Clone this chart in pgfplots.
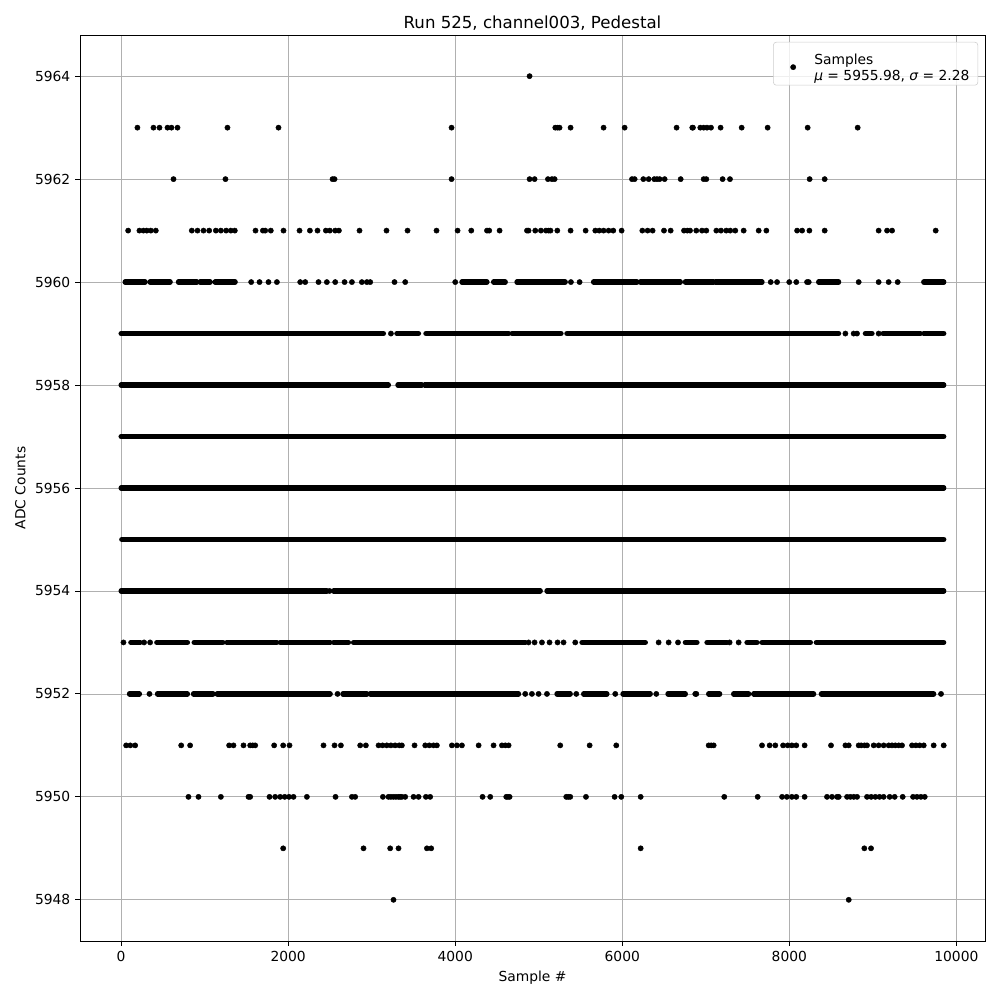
\documentclass[border=0pt]{standalone}
\usepackage{fontspec}
\setmainfont{DejaVu Sans}
\usepackage{pgfplots}
\pgfplotsset{compat=1.18}
\definecolor{gridgray}{HTML}{B0B0B0}
\definecolor{legframe}{HTML}{CCCCCC}
\begin{document}
\begin{tikzpicture}
\useasboundingbox (-57.6bp,-42.48bp) rectangle (662.4bp,677.52bp);
\begin{axis}[
  scale only axis,
  width=651.6bp, height=652.32bp,
  xmin=-492.5, xmax=10342.5,
  ymin=5947.2, ymax=5964.8,
  xtick={0,2000,4000,6000,8000,10000},
  ytick={5948,5950,5952,5954,5956,5958,5960,5962,5964},
  scaled x ticks=false, scaled y ticks=false,
  /pgf/number format/assume math mode=true,
  /pgf/number format/set thousands separator={},
  xticklabel style={/pgf/number format/fixed},
  yticklabel style={/pgf/number format/fixed},
  tick label style={font=\fontsize{10}{12}\selectfont},
  tick align=outside,
  xtick pos=left, ytick pos=left,
  major tick length=3.5bp,
  tick style={black, line width=0.6bp},
  axis line style={black, line width=0.6bp},
  grid=major,
  major grid style={gridgray, line width=0.58bp},
  title={Run 525, channel003, Pedestal},
  title style={font=\fontsize{12}{14}\selectfont, yshift=-6bp},
  xlabel={Sample \#},
  ylabel={ADC Counts},
  label style={font=\fontsize{10}{12}\selectfont},
  legend style={at={(1,1)}, anchor=north east, xshift=-5bp, yshift=-5bp,
    draw=legframe, rounded corners=2bp, fill=white, fill opacity=0.8, text opacity=1,
    font=\fontsize{10}{12}\selectfont, inner xsep=4bp, inner ysep=5.5bp},
  legend cell align=left,
  legend image code/.code={\path (-10bp,0bp) (13bp,0bp); \draw[#1, fill opacity=1, draw opacity=1] plot coordinates {(0bp,-2.5bp)};},
]
% dense runs of samples (contiguous groups of dots) drawn as joined dots
\addplot[black, line width=3.8bp, line cap=round, no markers, unbounded coords=jump, forget plot] table {
x y
0 5959
3140 5959
nan nan
3301 5959
3560 5959
nan nan
3649 5959
4440 5959
nan nan
4459 5959
4639 5959
nan nan
4679 5959
5266 5959
nan nan
5337 5959
8590 5959
nan nan
8910 5959
8990 5959
nan nan
9122 5959
9569 5959
nan nan
9609 5959
9849 5959
nan nan
0 5958
3200 5958
nan nan
3314 5958
3601 5958
nan nan
3633 5958
9849 5958
nan nan
0 5957
9849 5957
nan nan
0 5956
9849 5956
nan nan
8 5955
9849 5955
nan nan
0 5954
2463 5954
nan nan
2543 5954
5018 5954
nan nan
5098 5954
9849 5954
nan nan
116 5953
228 5953
nan nan
427 5953
794 5953
nan nan
874 5953
1218 5953
nan nan
1265 5953
1864 5953
nan nan
1904 5953
2503 5953
nan nan
2543 5953
2722 5953
nan nan
2782 5953
4838 5953
nan nan
5517 5953
6276 5953
nan nan
6755 5953
6894 5953
nan nan
7014 5953
7253 5953
nan nan
7493 5953
7613 5953
nan nan
7673 5953
8252 5953
nan nan
8323 5953
9848 5953
nan nan
100 5952
219 5952
nan nan
435 5952
794 5952
nan nan
866 5952
1100 5952
nan nan
1150 5952
2503 5952
nan nan
2655 5952
2942 5952
nan nan
2982 5952
4758 5952
nan nan
5218 5952
5377 5952
nan nan
5537 5952
5816 5952
nan nan
6008 5952
6335 5952
nan nan
6547 5952
6755 5952
nan nan
7034 5952
7166 5952
nan nan
7333 5952
7513 5952
nan nan
7573 5952
8291 5952
nan nan
8383 5952
9728 5952
nan nan
48 5960
287 5960
nan nan
347 5960
587 5960
nan nan
686 5960
906 5960
nan nan
946 5960
1066 5960
nan nan
1126 5960
1365 5960
nan nan
4080 5960
4380 5960
nan nan
4459 5960
4599 5960
nan nan
4739 5960
5317 5960
nan nan
5656 5960
6176 5960
nan nan
6216 5960
6695 5960
nan nan
6755 5960
7094 5960
nan nan
7114 5960
7673 5960
nan nan
8351 5960
8590 5960
nan nan
9609 5960
9849 5960
};
\addplot[only marks, mark=*, mark size=1.9bp, black, mark options={line width=0.3bp}] table {
x y
4890 5964
195 5963
387 5963
459 5963
555 5963
603 5963
675 5963
1273 5963
1884 5963
3956 5963
5198 5963
5225 5963
5249 5963
5381 5963
5776 5963
6028 5963
6650 5963
6838 5963
6846 5963
6934 5963
6974 5963
7014 5963
7062 5963
7177 5963
7429 5963
7740 5963
8219 5963
8818 5963
627 5962
1249 5962
2531 5962
2555 5962
3956 5962
4890 5962
4950 5962
5110 5962
5158 5962
5190 5962
6116 5962
6148 5962
6252 5962
6316 5962
6383 5962
6415 5962
6447 5962
6507 5962
6699 5962
6974 5962
7006 5962
7201 5962
7289 5962
8243 5962
8423 5962
84 5961
219 5961
267 5961
307 5961
355 5961
415 5961
846 5961
914 5961
986 5961
1054 5961
1134 5961
1194 5961
1257 5961
1313 5961
1361 5961
1609 5961
1697 5961
1725 5961
1792 5961
1944 5961
2136 5961
2260 5961
2351 5961
2451 5961
2499 5961
2563 5961
2607 5961
2854 5961
3177 5961
3429 5961
3776 5961
4028 5961
4192 5961
4380 5961
4407 5961
4531 5961
4859 5961
4878 5961
4958 5961
5026 5961
5086 5961
5118 5961
5141 5961
5222 5961
5381 5961
5561 5961
5677 5961
5725 5961
5776 5961
5836 5961
5892 5961
5992 5961
6240 5961
6303 5961
6363 5961
6499 5961
6579 5961
6739 5961
6779 5961
6811 5961
6886 5961
6954 5961
7006 5961
7126 5961
7182 5961
7245 5961
7293 5961
7353 5961
7453 5961
7633 5961
7725 5961
8093 5961
8153 5961
8240 5961
8423 5961
9069 5961
9170 5961
9230 5961
9752 5961
1557 5960
1657 5960
1764 5960
1865 5960
2144 5960
2204 5960
2363 5960
2463 5960
2563 5960
2675 5960
2763 5960
2882 5960
2942 5960
2982 5960
3273 5960
3401 5960
4000 5960
5385 5960
5489 5960
7777 5960
7853 5960
7999 5960
8083 5960
8212 5960
8232 5960
8830 5960
9069 5960
9189 5960
9297 5960
3230 5959
8671 5959
8770 5959
8810 5959
9069 5959
2495 5954
28 5953
275 5953
347 5953
4878 5953
4950 5953
5038 5953
5129 5953
5225 5953
5297 5953
5437 5953
6435 5953
6555 5953
6667 5953
7285 5953
7393 5953
339 5952
2591 5952
4838 5952
4918 5952
4998 5952
5098 5952
5449 5952
5916 5952
6407 5952
6874 5952
6886 5952
9816 5952
60 5951
110 5951
168 5951
719 5951
826 5951
1293 5951
1345 5951
1465 5951
1545 5951
1575 5951
1605 5951
1832 5951
1940 5951
2016 5951
2423 5951
2555 5951
2631 5951
2862 5951
2930 5951
3082 5951
3130 5951
3180 5951
3230 5951
3280 5951
3330 5951
3361 5951
3513 5951
3641 5951
3690 5951
3740 5951
3780 5951
3960 5951
4020 5951
4080 5951
4280 5951
4459 5951
4559 5951
4600 5951
4639 5951
5257 5951
5609 5951
5928 5951
7034 5951
7064 5951
7094 5951
7673 5951
7764 5951
7832 5951
7925 5951
7980 5951
8030 5951
8083 5951
8183 5951
8499 5951
8671 5951
8711 5951
8830 5951
8860 5951
8900 5951
8930 5951
9010 5951
9069 5951
9129 5951
9189 5951
9229 5951
9269 5951
9309 5951
9349 5951
9469 5951
9515 5951
9560 5951
9609 5951
9728 5951
9848 5951
806 5950
926 5950
1194 5950
1525 5950
1545 5950
1776 5950
1844 5950
1904 5950
1958 5950
2010 5950
2064 5950
2224 5950
2567 5950
2763 5950
2802 5950
3134 5950
3201 5950
3230 5950
3260 5950
3290 5950
3320 5950
3341 5950
3361 5950
3401 5950
3501 5950
3561 5950
3649 5950
3700 5950
4327 5950
4419 5950
4611 5950
4631 5950
4651 5950
5329 5950
5353 5950
5377 5950
5565 5950
5908 5950
5988 5950
6220 5950
7221 5950
7621 5950
7913 5950
7970 5950
8030 5950
8083 5950
8183 5950
8451 5950
8511 5950
8571 5950
8591 5950
8691 5950
8731 5950
8771 5950
8811 5950
8930 5950
8980 5950
9030 5950
9080 5950
9129 5950
9201 5950
9261 5950
9357 5950
9481 5950
9528 5950
9575 5950
9621 5950
1940 5949
2902 5949
3221 5949
3321 5949
3661 5949
3712 5949
6220 5949
8898 5949
8978 5949
3261 5948
8711 5948
};
\addlegendentry{\begin{tabular}{@{}l@{}}Samples\\{\itshape μ} = 5955.98, {\itshape σ} = 2.28\end{tabular}}
\end{axis}
\end{tikzpicture}
\end{document}
